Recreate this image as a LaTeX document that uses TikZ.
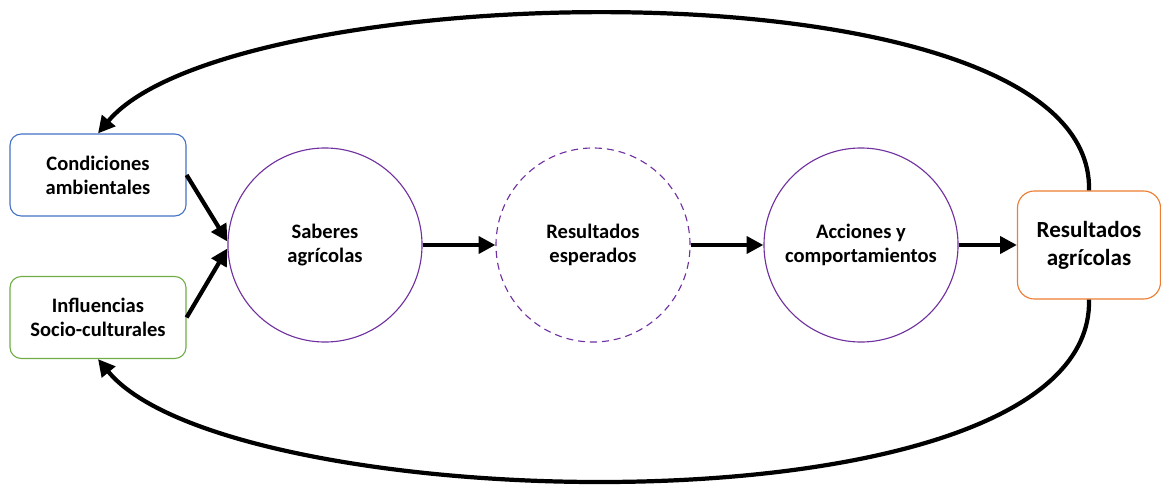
\documentclass[tikz,border=0pt]{standalone}
\usepackage{fontspec}
\setmainfont{Carlito}
\usetikzlibrary{arrows.meta}
\definecolor{condblue}{HTML}{4472C4}
\definecolor{inflgreen}{HTML}{70AD47}
\definecolor{saberpurple}{HTML}{7030A0}
\definecolor{resorange}{HTML}{ED7D31}
\def\circSize{4.85cm}
\def\arrowWidth{3pt}
\def\textFont{\bfseries\fontsize{14.6}{17}\selectfont}
\tikzset{
  inbox/.style={draw, rounded corners=8pt, line width=0.8pt, minimum width=4.4cm,
    minimum height=2.05cm, align=center, font=\textFont},
  idea/.style={draw=saberpurple, circle, line width=0.8pt, minimum size=\circSize,
    align=center, font=\textFont},
  bigarrow/.style={line width=\arrowWidth, -{Triangle[length=12pt,width=12pt]}},
}

\begin{document}
\begin{tikzpicture}[x=0.025cm,y=-0.025cm]
\useasboundingbox (0,0) rectangle (1161,486);
\node [inbox, draw=condblue] (cond) at (98,175) {Condiciones\\ambientales};
\node [inbox, draw=inflgreen] (infl) at (98,317.5) {Influencias\\Socio-culturales};
\node [idea] (saberes) at (325,245) {Saberes\\agrícolas};
\node [idea, dashed, dash pattern=on 5pt off 3.5pt] (esperados) at (593,245) {Resultados\\esperados};
\node [idea] (acciones) at (861,245) {Acciones y\\comportamientos};
\node [inbox, draw=resorange, minimum width=3.575cm, minimum height=2.7cm,
  rounded corners=12pt, font=\bfseries\fontsize{16.4}{20}\selectfont] (result) at (1089,245) {Resultados\\agrícolas};
\draw [bigarrow] (cond.east) -- (saberes.178);
\draw [bigarrow] (infl.east) -- (saberes.182);
\draw [bigarrow] (saberes) -- (esperados);
\draw [bigarrow] (esperados) -- (acciones);
\draw [bigarrow] (acciones) -- (result);
\draw [bigarrow] (result.north) .. controls (1095,-45) and (230,-25) .. (cond.north);
\draw [bigarrow] (result.south) .. controls (1095,540) and (230,520) .. (infl.south);
\end{tikzpicture}
\end{document}
